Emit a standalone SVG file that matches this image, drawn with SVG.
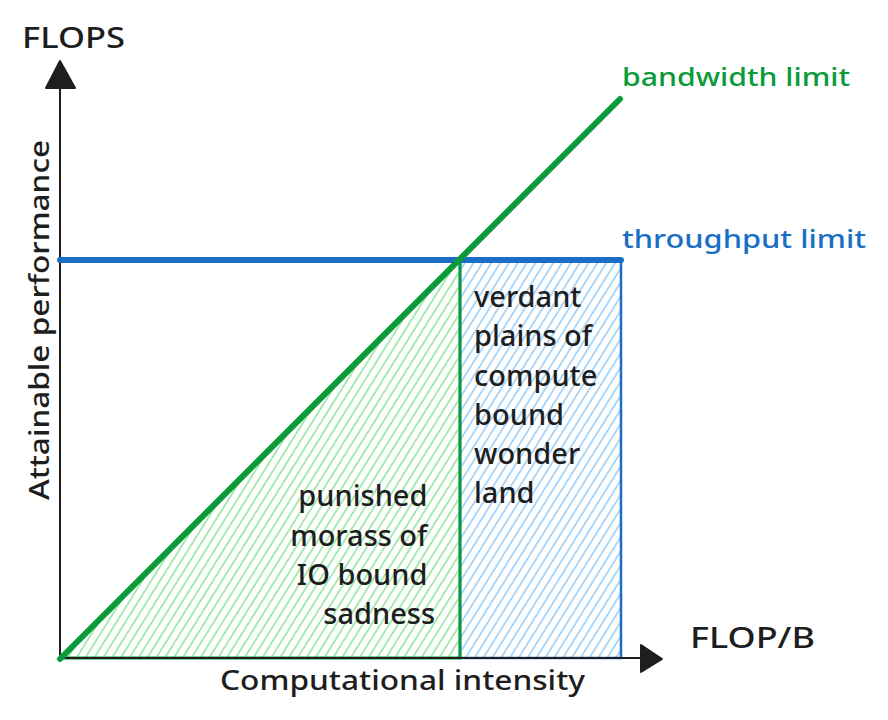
<svg xmlns="http://www.w3.org/2000/svg" width="888" height="720" viewBox="0 0 888 720">
<defs>
<pattern id="hatchG" width="7.5" height="7.5" patternUnits="userSpaceOnUse" patternTransform="rotate(32)">
<line x1="1" y1="0" x2="1" y2="7.5" stroke="#9be8a6" stroke-width="1.7"/>
</pattern>
<pattern id="hatchB" width="7.5" height="7.5" patternUnits="userSpaceOnUse" patternTransform="rotate(32)">
<line x1="1" y1="0" x2="1" y2="7.5" stroke="#9fd2fb" stroke-width="1.7"/>
</pattern>
<style>
.t{font-family:"Noto Sans","Liberation Sans",sans-serif;fill:#1e1e1e;font-weight:500}
.g{fill:#0a9a3a}
.b{fill:#1a6fc4}
.ax{stroke:#1e1e1e;stroke-width:2;fill:none}
.head{fill:#1e1e1e;stroke:#1e1e1e;stroke-width:2;stroke-linejoin:round}
</style>
</defs>
<rect width="888" height="720" fill="#ffffff"/>

<g id="regions">
<g id="compute-bound">
<rect x="460" y="260" width="161" height="398" fill="url(#hatchB)" stroke="#1a6fc4" stroke-width="2.5"/>
</g>
<g id="io-bound">
<polygon points="60,658 460,260 460,658" fill="url(#hatchG)" stroke="#0a9a3a" stroke-width="3" stroke-linejoin="round"/>
</g>
</g>

<g id="connectors">
<g id="y-axis">
<line class="ax" x1="60" y1="660" x2="60" y2="86"/>
<polygon class="head" points="60,61 46,88 75,88"/>
</g>
<g id="x-axis">
<line class="ax" x1="60" y1="658" x2="641" y2="658"/>
<polygon class="head" points="662,659 641,645 641,672"/>
</g>
<g id="throughput-line">
<line x1="60" y1="260" x2="621" y2="260" stroke="#1a6fc4" stroke-width="6" stroke-linecap="round"/>
</g>
<g id="bandwidth-line">
<line x1="60" y1="659" x2="620" y2="99" stroke="#0a9a3a" stroke-width="6" stroke-linecap="round"/>
</g>
</g>

<g id="labels">
<text class="t" x="22" y="48" font-size="28" textLength="103" lengthAdjust="spacingAndGlyphs">FLOPS</text>
<text class="t g" x="622" y="86" font-size="26" textLength="228" lengthAdjust="spacingAndGlyphs">bandwidth limit</text>
<text class="t b" x="622" y="248" font-size="26" textLength="244" lengthAdjust="spacingAndGlyphs">throughput limit</text>
<text class="t" x="690" y="648" font-size="28" textLength="125" lengthAdjust="spacingAndGlyphs">FLOP/B</text>
<text class="t" x="220" y="690" font-size="27" textLength="365" lengthAdjust="spacingAndGlyphs">Computational intensity</text>
<text class="t" transform="translate(49,320) rotate(-90)" text-anchor="middle" font-size="27" textLength="360" lengthAdjust="spacingAndGlyphs">Attainable performance</text>
<g id="compute-label">
<text class="t" font-size="29">
<tspan x="474" y="307">verdant</tspan>
<tspan x="474" y="346">plains of</tspan>
<tspan x="474" y="386">compute</tspan>
<tspan x="474" y="425">bound</tspan>
<tspan x="474" y="464">wonder</tspan>
<tspan x="474" y="503">land</tspan>
</text>
</g>
<g id="io-label">
<text class="t" font-size="29" text-anchor="end">
<tspan x="435" y="506">punished</tspan>
<tspan x="435" y="546">morass of</tspan>
<tspan x="435" y="585">IO bound</tspan>
<tspan x="435" y="624">sadness</tspan>
</text>
</g>
</g>
</svg>
